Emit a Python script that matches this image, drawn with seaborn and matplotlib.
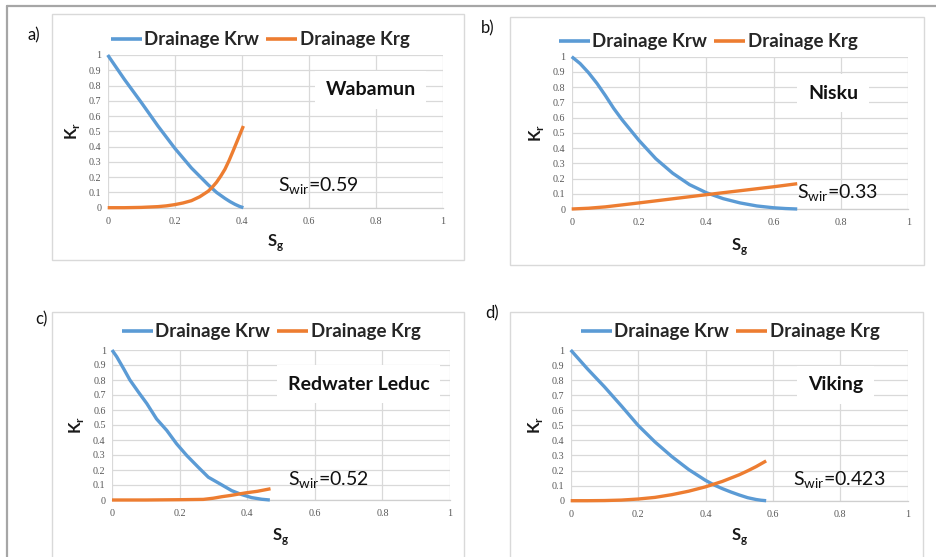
import matplotlib
matplotlib.use("Agg")
import matplotlib.pyplot as plt
from matplotlib.patches import Rectangle
from matplotlib.lines import Line2D
import pandas as pd
import seaborn as sns

# ---- relative permeability curves (gas saturation Sg vs. Kr) ----
# a) Wabamun
sg_wab_w = [0.0, 0.05, 0.1, 0.15, 0.2, 0.25, 0.3, 0.325, 0.35, 0.365, 0.38, 0.393, 0.405]
krw_wab = [1.0, 0.84, 0.69, 0.535, 0.39, 0.26, 0.15, 0.1, 0.061, 0.04, 0.022, 0.009, 0.0]
sg_wab_g = [0.0, 0.05, 0.1, 0.15, 0.175, 0.2, 0.225, 0.25, 0.275, 0.3, 0.3125, 0.325,
            0.3375, 0.35, 0.3625, 0.375, 0.39, 0.405]
krg_wab = [0.0, 0.0, 0.002, 0.007, 0.012, 0.02, 0.031, 0.046, 0.072, 0.108, 0.135, 0.167,
           0.207, 0.252, 0.31, 0.375, 0.455, 0.535]

# b) Nisku
sg_nis_w = [0.0, 0.025, 0.05, 0.075, 0.1, 0.125, 0.15, 0.2, 0.25, 0.3, 0.35, 0.4, 0.45,
            0.5, 0.55, 0.6, 0.635, 0.67]
krw_nis = [1.0, 0.955, 0.895, 0.825, 0.745, 0.66, 0.585, 0.45, 0.33, 0.235, 0.16, 0.107,
           0.068, 0.04, 0.02, 0.008, 0.003, 0.0]
sg_nis_g = [0.0, 0.05, 0.1, 0.15, 0.2, 0.3, 0.4, 0.5, 0.6, 0.67]
krg_nis = [0.0, 0.005, 0.014, 0.027, 0.04, 0.067, 0.094, 0.12, 0.146, 0.166]

# c) Redwater Leduc
sg_red_w = [0.0, 0.014, 0.034, 0.053, 0.078, 0.103, 0.132, 0.162, 0.191, 0.221,
            0.255, 0.285, 0.32, 0.354, 0.384, 0.413, 0.443, 0.467]
krw_red = [1.0, 0.955, 0.877, 0.8, 0.72, 0.643, 0.54, 0.464, 0.375, 0.297,
           0.219, 0.152, 0.107, 0.0625, 0.036, 0.016, 0.005, 0.0]
sg_red_g = [0.0, 0.1, 0.2, 0.27, 0.3, 0.325, 0.35, 0.394, 0.43, 0.469]
krg_red = [0.0, 0.0, 0.002, 0.004, 0.012, 0.022, 0.03, 0.047, 0.058, 0.075]

# d) Viking
sg_vik_w = [0.0, 0.05, 0.1, 0.15, 0.2, 0.25, 0.3, 0.35, 0.4, 0.425, 0.45, 0.475, 0.5,
            0.525, 0.55, 0.565, 0.58]
krw_vik = [1.0, 0.874, 0.756, 0.63, 0.5, 0.39, 0.293, 0.207, 0.135, 0.105, 0.08, 0.058,
           0.038, 0.02, 0.008, 0.003, 0.0]
sg_vik_g = [0.0, 0.05, 0.1, 0.15, 0.2, 0.25, 0.3, 0.35, 0.4, 0.45, 0.5, 0.525, 0.55, 0.58]
krg_vik = [0.0, 0.0, 0.001, 0.004, 0.011, 0.022, 0.04, 0.063, 0.092, 0.128, 0.172, 0.198,
           0.226, 0.264]

panel_letters = ["a)", "b)", "c)", "d)"]
formations = ["Wabamun", "Nisku", "Redwater Leduc", "Viking"]
swir_labels = ["0.59", "0.33", "0.52", "0.423"]
series_names = ["Drainage Krw", "Drainage Krg"]
x_ticks = [0, 0.2, 0.4, 0.6, 0.8, 1]
x_tick_labels = ["0", "0.2", "0.4", "0.6", "0.8", "1"]
y_ticks = [0, 0.1, 0.2, 0.3, 0.4, 0.5, 0.6, 0.7, 0.8, 0.9, 1]
y_tick_labels = ["0", "0.1", "0.2", "0.3", "0.4", "0.5", "0.6", "0.7", "0.8", "0.9", "1"]

curves = [
    (sg_wab_w, krw_wab, sg_wab_g, krg_wab),
    (sg_nis_w, krw_nis, sg_nis_g, krg_nis),
    (sg_red_w, krw_red, sg_red_g, krg_red),
    (sg_vik_w, krw_vik, sg_vik_g, krg_vik),
]

sns.set_theme(style="white")
plt.rcParams["font.family"] = ["Lato", "DejaVu Sans"]

W, H = 937, 557
fig = plt.figure(figsize=(W / 100, H / 100), dpi=100)
fig.patch.set_facecolor("white")


def fx(px):
    return px / W


def fy(py):
    return 1 - py / H


# layout in pixels: axes (x0, x1, ytop, ybottom)
axes_px = [(107.7, 442.7, 55.0, 207.7),
           (571.7, 908.3, 56.7, 209.0),
           (112.0, 450.0, 350.0, 500.0),
           (570.7, 907.7, 350.0, 500.7)]
box_px = [(52, 464, 14, 260), (510, 924, 17, 265), (52, 464, 312, 570), (510, 923, 312, 570)]
legend_px = [(260, 40), (708, 41.7), (271, 331.7), (730, 331.7)]
letter_px = [(34, 35), (488, 28), (41, 319), (492, 313)]
name_xy = [(0.785, 0.771), (0.777, 0.76), (0.729, 0.773), (0.785, 0.768)]
swir_xy = [(0.508, 0.137), (0.668, 0.103), (0.522, 0.133), (0.66, 0.137)]
sg_label_y = [-0.225, -0.245, -0.245, -0.24]

palette = {"Drainage Krw": "#5B9BD5", "Drainage Krg": "#ED7D31"}
grid_c = "#d9d9d9"
tick_c = "#595959"

# outer frame
fig.add_artist(Line2D([fx(7.5), fx(7.5)], [0, fy(5.5)], transform=fig.transFigure,
                      color="#a6a6a6", lw=1.6))
fig.add_artist(Line2D([fx(7.5), 1], [fy(5.5), fy(5.5)], transform=fig.transFigure,
                      color="#a6a6a6", lw=1.6))

for i in range(4):
    bx0, bx1, by0, by1 = box_px[i]
    fig.add_artist(Rectangle((fx(bx0), fy(by1)), fx(bx1 - bx0), (by1 - by0) / H,
                             transform=fig.transFigure, fill=False,
                             edgecolor=grid_c, lw=1.0))

    x0, x1, yt, yb = axes_px[i]
    ax = fig.add_axes([fx(x0), fy(yb), fx(x1 - x0), (yb - yt) / H])
    ax.set_facecolor("white")

    sw, kw, sgg, kg = curves[i]
    df = pd.concat([
        pd.DataFrame({"Sg": sw, "Kr": kw, "curve": series_names[0]}),
        pd.DataFrame({"Sg": sgg, "Kr": kg, "curve": series_names[1]}),
    ], ignore_index=True)
    sns.lineplot(data=df, x="Sg", y="Kr", hue="curve", palette=palette,
                 sort=False, estimator=None, lw=2.4, ax=ax, legend=True)
    for ln in ax.get_lines():
        ln.set_clip_on(False)
        ln.set_solid_capstyle("butt")
        ln.set_solid_joinstyle("round")
        ln.set_zorder(3)

    ax.set_xlim(0, 1)
    ax.set_ylim(0, 1)
    ax.set_xticks(x_ticks)
    ax.set_xticklabels(x_tick_labels)
    ax.set_yticks(y_ticks)
    ax.set_yticklabels(y_tick_labels)
    ax.tick_params(axis="both", length=0, labelsize=7.3, labelcolor=tick_c)
    ax.tick_params(axis="x", pad=6.5)
    ax.tick_params(axis="y", pad=4.5)
    for lab in ax.get_xticklabels() + ax.get_yticklabels():
        lab.set_fontfamily("Liberation Serif")
    ax.grid(True, color=grid_c, lw=0.9)
    ax.set_axisbelow(True)
    for s in ["top", "right", "left"]:
        ax.spines[s].set_visible(False)
    ax.spines["bottom"].set_color("#cfcfcf")
    ax.spines["bottom"].set_linewidth(0.9)
    ax.set_xlabel("")
    ax.set_ylabel("")

    handles, labels = ax.get_legend_handles_labels()
    lx, ly = legend_px[i]
    leg = ax.legend(handles, labels, loc="center", bbox_to_anchor=(fx(lx), fy(ly)),
                    bbox_transform=fig.transFigure, ncol=2, frameon=False,
                    handlelength=1.65, handletextpad=0.15, columnspacing=0.35,
                    borderpad=0, prop={"family": "Lato", "weight": "bold", "size": 13.5})
    for h in leg.get_lines():
        h.set_linewidth(2.6)

    # axis titles
    ax.text(-0.105, 0.5, r"K$_\mathregular{r}$", transform=ax.transAxes, rotation=90,
            ha="center", va="center", fontsize=12, fontweight="bold", color="#1a1a1a")
    ax.text(0.5, sg_label_y[i], r"S$_\mathregular{g}$", transform=ax.transAxes,
            ha="center", va="center", fontsize=12, fontweight="bold", color="#1a1a1a")

    # formation name with white backing box
    nx, ny = name_xy[i]
    ax.text(nx, ny, formations[i], transform=ax.transData, ha="center", va="center",
            fontsize=14, fontweight="bold", color="#111111", zorder=5,
            bbox=dict(boxstyle="square,pad=0.55", fc="white", ec="none"))

    # irreducible water saturation
    sx, sy = swir_xy[i]
    ax.text(sx, sy, r"S$_\mathregular{wir}$=" + swir_labels[i], transform=ax.transData,
            ha="left", va="center", fontsize=14, color="#111111", zorder=5)

    # panel letter
    px, py = letter_px[i]
    fig.text(fx(px), fy(py), panel_letters[i], ha="center", va="center",
             fontsize=12, color="#111111")

fig.savefig("out.png", dpi=100, facecolor="white")
